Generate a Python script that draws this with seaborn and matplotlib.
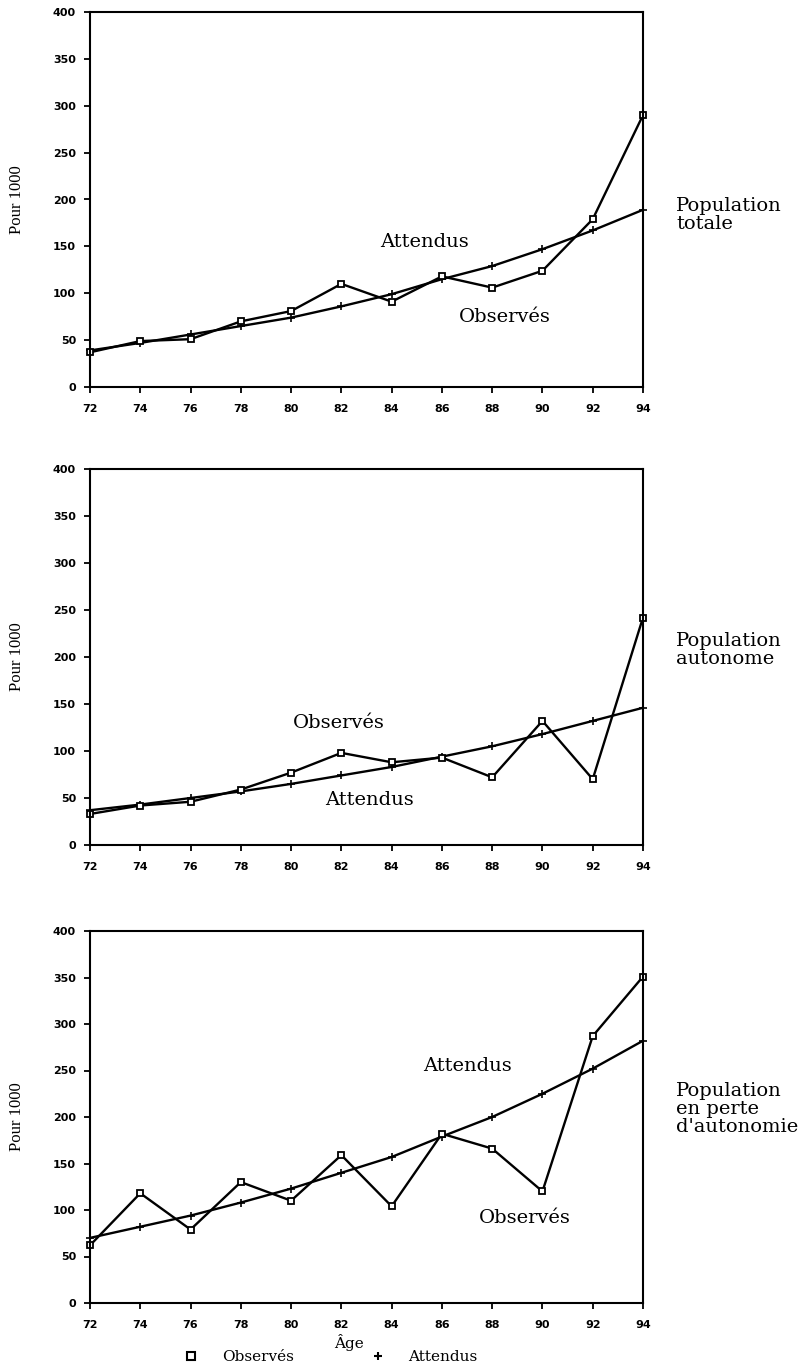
import pandas as pd
import matplotlib
matplotlib.use('Agg')
import matplotlib.pyplot as plt
from matplotlib.lines import Line2D
import seaborn as sns

# Ages (x axis) and rates per 1000
ages = [72, 74, 76, 78, 80, 82, 84, 86, 88, 90, 92, 94]

totale_obs = [37, 49, 51, 70, 81, 110, 91, 118, 106, 124, 179, 290]
totale_att = [39, 47, 56, 65, 74, 86, 99, 115, 129, 147, 167, 189]

autonome_obs = [33, 42, 46, 59, 77, 98, 88, 93, 72, 132, 70, 242]
autonome_att = [37, 43, 50, 57, 65, 74, 83, 94, 105, 118, 132, 146]

perte_obs = [62, 118, 79, 130, 110, 159, 104, 182, 166, 120, 287, 351]
perte_att = [70, 82, 94, 108, 123, 140, 157, 179, 200, 225, 252, 282]

panel_titles = ['Population\ntotale', 'Population\nautonome', "Population\nen perte\nd'autonomie"]
series_names = ['Observés', 'Attendus']
y_ticks = [0, 50, 100, 150, 200, 250, 300, 350, 400]

# label positions inside each panel (age, value)
label_pos = [
    {'Attendus': (85.3, 155), 'Observés': (88.5, 75)},
    {'Observés': (81.9, 130), 'Attendus': (83.1, 48)},
    {'Attendus': (87.0, 255), 'Observés': (89.3, 91)},
]

sns.set_style('ticks')
plt.rcParams['font.family'] = ['DejaVu Sans']
plt.rcParams['text.color'] = 'black'
plt.rcParams['axes.labelcolor'] = 'black'

W, H = 807, 1371
fig = plt.figure(figsize=(W / 100, H / 100), dpi=100)

# axes boxes in pixels: (top, bottom)
boxes = [(12, 387), (469, 845), (931, 1303)]
left_px, right_px = 90, 643
text_tops = [197, 632, 1082]

data = [(totale_obs, totale_att), (autonome_obs, autonome_att), (perte_obs, perte_att)]

for i, (obs, att) in enumerate(data):
    top, bottom = boxes[i]
    ax = fig.add_axes([left_px / W, 1 - bottom / H, (right_px - left_px) / W, (bottom - top) / H])

    df = pd.DataFrame({'Age': ages, 'Observés': obs, 'Attendus': att})

    # expected curve first, observed on top
    sns.lineplot(data=df, x='Age', y='Attendus', color='black', linewidth=1.7,
                 marker='+', markersize=6, markeredgecolor='black', mew=1.2,
                 clip_on=False, ax=ax)
    sns.lineplot(data=df, x='Age', y='Observés', color='black', linewidth=1.7,
                 marker='s', markersize=5, markerfacecolor='white',
                 markeredgecolor='black', mew=1.3, clip_on=False, ax=ax)

    ax.set_xlim(72, 94)
    ax.set_ylim(0, 400)
    ax.set_xticks(ages)
    ax.set_yticks(y_ticks)
    for s in ax.spines.values():
        s.set_linewidth(1.5)
        s.set_color('black')
    ax.tick_params(direction='out', length=4, width=1.3, colors='black')
    ax.tick_params(axis='x', pad=8)
    ax.tick_params(axis='y', pad=6)
    for lab in ax.get_xticklabels() + ax.get_yticklabels():
        lab.set_fontsize(8)
        lab.set_fontweight('bold')

    ax.set_ylabel('Pour 1000', family='Liberation Serif', fontsize=12)
    ax.yaxis.set_label_coords(-0.118, 0.5)
    ax.set_xlabel('')

    for name, (x, y) in label_pos[i].items():
        ax.text(x, y, name, ha='center', va='center', family='DejaVu Serif', fontsize=14)

    fig.text(676 / W, 1 - text_tops[i] / H, panel_titles[i], ha='left', va='top',
             family='DejaVu Serif', fontsize=14, linespacing=1.0)

    if i == 2:
        ax.set_xlabel('Âge', family='DejaVu Serif', fontsize=11)
        ax.xaxis.set_label_coords(0.468, -0.082)

handles = [
    Line2D([], [], marker='s', ls='none', color='black', mfc='white', mec='black', mew=1.5, markersize=6),
    Line2D([], [], marker='+', ls='none', color='black', mew=1.5, markersize=6),
]
fig.legend(handles, series_names, loc='center', bbox_to_anchor=(0.405, 1 - 1357 / H), ncol=2,
           frameon=False, prop={'family': 'DejaVu Serif', 'size': 11},
           handletextpad=1.0, columnspacing=4.5, borderpad=0)

fig.savefig('out.png', dpi=100)
